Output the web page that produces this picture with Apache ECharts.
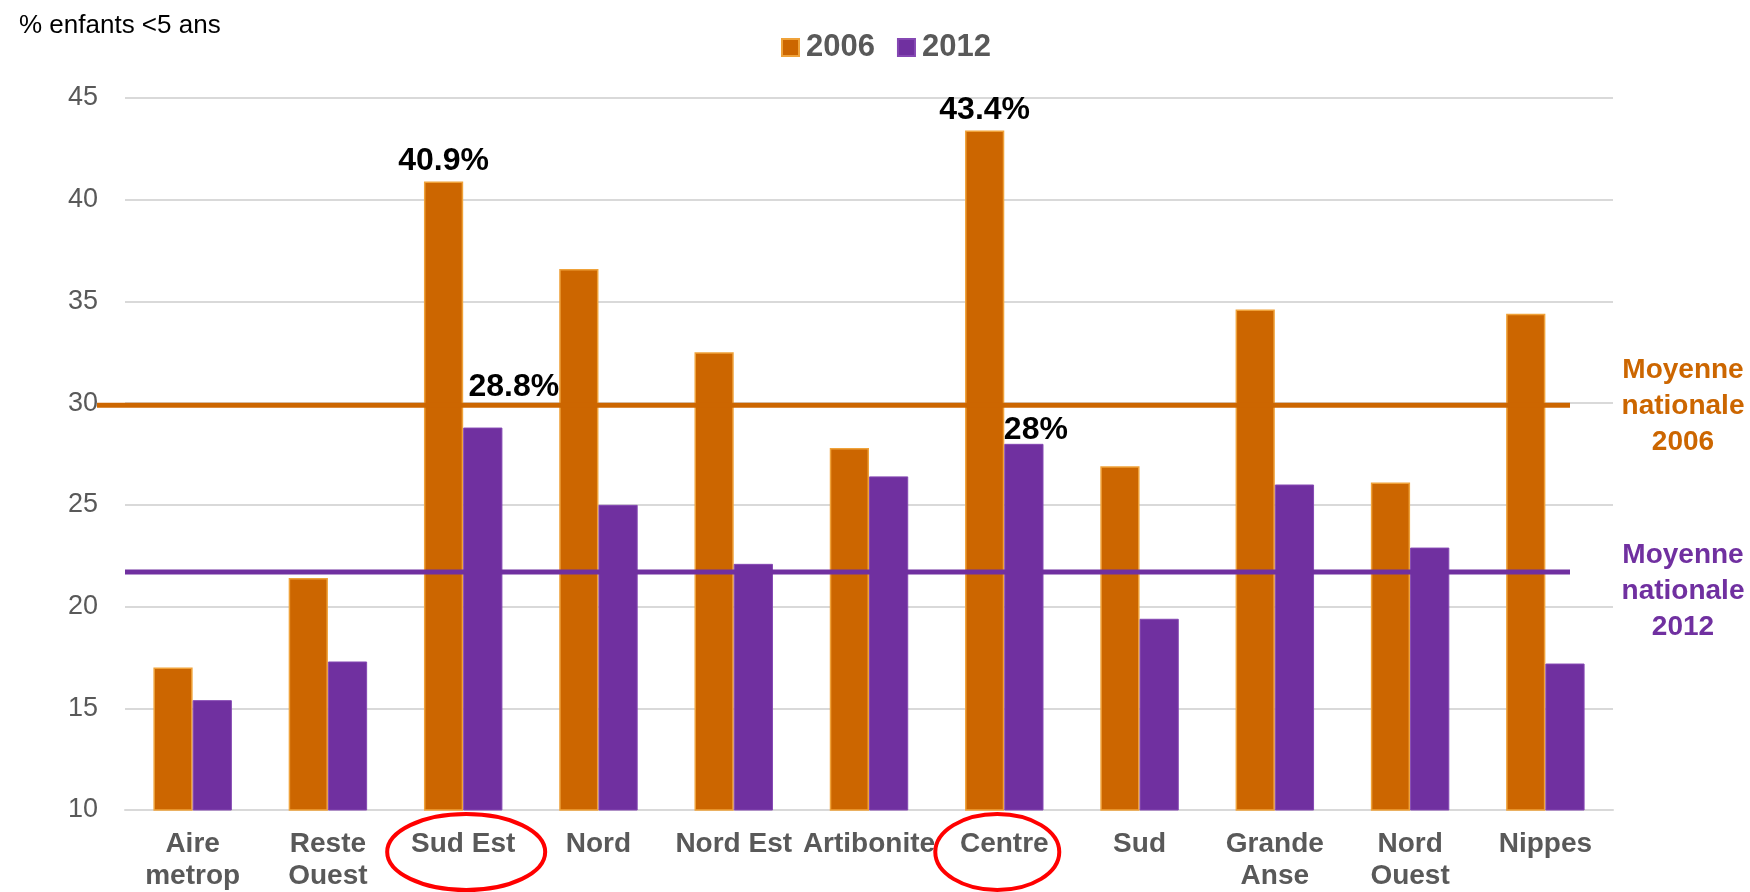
<!DOCTYPE html>
<html>
<head>
<meta charset="utf-8">
<script src="https://cdn.jsdelivr.net/npm/echarts@6/dist/echarts.min.js"></script>
<style>
  html, body { margin: 0; padding: 0; background: #ffffff; }
  #chart { width: 1750px; height: 892px; }
</style>
</head>
<body>
<div id="chart"></div>
<script>
// Département data: share of children under 5 (%)
const categories = ['Aire\nmetrop', 'Reste\nOuest', 'Sud Est', 'Nord', 'Nord Est', 'Artibonite', 'Centre', 'Sud', 'Grande\nAnse', 'Nord\nOuest', 'Nippes'];
const values2006 = [17.0, 21.4, 40.9, 36.6, 32.5, 27.8, 43.4, 26.9, 34.6, 26.1, 34.4];
const values2012 = [15.4, 17.3, 28.8, 25.0, 22.1, 26.4, 28.0, 19.4, 26.0, 22.9, 17.2];
const nationalAvg2006 = 29.9;
const nationalAvg2012 = 21.7;
const seriesNames = ['2006', '2012'];
const yMin = 10, yMax = 45, yInterval = 5;
const labelledCategories = ['Sud Est', 'Centre'];
const circledCategories = ['Sud Est', 'Centre'];

const ORANGE = '#CC6600';
const PURPLE = '#7030A0';
const GREY_TEXT = '#595959';
const GRID_LINE = '#D9D9D9';
const FONT = '"Liberation Sans", Arial, sans-serif';

// per-label nudges so value labels avoid neighbouring bars
const labelOffsets = {
  '2012|Sud Est': [31, -20],
  '2012|Centre': [12, 6]
};

function buildData(values, seriesName) {
  return values.map(function (v, i) {
    const cat = categories[i];
    if (labelledCategories.indexOf(cat) >= 0) {
      return {
        value: v,
        label: { show: true, offset: labelOffsets[seriesName + '|' + cat] || [0, 0] }
      };
    }
    return v;
  });
}

const valueLabel = {
  show: false,
  position: 'top',
  distance: 4,
  formatter: '{c}%',
  fontFamily: FONT,
  fontSize: 32,
  fontWeight: 'bold',
  color: '#000000'
};

const option = {
  animation: false,
  backgroundColor: '#ffffff',
  textStyle: { fontFamily: FONT },
  title: {
    text: '% enfants <5 ans',
    left: 14,
    top: 8,
    textStyle: { fontFamily: FONT, fontSize: 26, fontWeight: 'normal', color: '#000000' }
  },
  legend: {
    data: seriesNames,
    left: 776,
    top: 27,
    itemWidth: 17,
    itemHeight: 17,
    itemGap: 22,
    icon: 'rect',
    textStyle: { fontFamily: FONT, fontSize: 31, fontWeight: 'bold', color: GREY_TEXT, padding: [0, 0, 0, 2] }
  },
  grid: { left: 125, right: 137, top: 98, bottom: 78, containLabel: false },
  xAxis: {
    type: 'category',
    data: categories,
    axisTick: { show: false },
    axisLine: { lineStyle: { color: GRID_LINE, width: 2 } },
    axisLabel: {
      interval: 0,
      margin: 18,
      fontFamily: FONT,
      fontSize: 28,
      fontWeight: 'bold',
      lineHeight: 32,
      color: GREY_TEXT
    }
  },
  yAxis: {
    type: 'value',
    min: yMin,
    max: yMax,
    interval: yInterval,
    axisLine: { show: false },
    axisTick: { show: false },
    splitLine: { lineStyle: { color: GRID_LINE, width: 2 } },
    axisLabel: { fontFamily: FONT, fontSize: 27, color: GREY_TEXT, margin: 27 }
  },
  series: [
    {
      name: seriesNames[0],
      type: 'bar',
      data: buildData(values2006, seriesNames[0]),
      barGap: '0%',
      barCategoryGap: '42%',
      itemStyle: { color: ORANGE, borderColor: '#EFA23A', borderWidth: 1.5 },
      label: valueLabel
    },
    {
      name: seriesNames[1],
      type: 'bar',
      data: buildData(values2012, seriesNames[1]),
      barGap: '0%',
      barCategoryGap: '42%',
      itemStyle: { color: PURPLE, borderColor: '#8548B3', borderWidth: 1 },
      label: valueLabel
    }
  ]
};

const chart = echarts.init(document.getElementById('chart'), null, { renderer: 'canvas' });
chart.setOption(option);

// Overlays placed through the chart's own scales
function toPx(catIndex, value) {
  return chart.convertToPixel({ gridIndex: 0 }, [catIndex, value]);
}
const gridRect = chart.getModel().getComponent('grid', 0).coordinateSystem.getRect();
const gridLeft = gridRect.x;
const gridRight = gridRect.x + gridRect.width;
const axisY = toPx(0, yMin)[1];

const y2006 = toPx(0, nationalAvg2006)[1];
const y2012 = toPx(0, nationalAvg2012)[1];

const ellipseShapes = {
  'Sud Est': { rx: 79, dx: 3 },
  'Centre': { rx: 62, dx: -7 }
};

const sideLabelFont = 'bold 28px ' + FONT;

const graphics = [
  {
    type: 'line', z: 10,
    shape: { x1: gridLeft - 28, y1: y2006, x2: gridRight - 43, y2: y2006 },
    style: { stroke: ORANGE, lineWidth: 5 }
  },
  {
    type: 'line', z: 10,
    shape: { x1: gridLeft, y1: y2012, x2: gridRight - 43, y2: y2012 },
    style: { stroke: PURPLE, lineWidth: 5 }
  },
  {
    type: 'text', z: 10,
    x: 1683, y: y2006 + 1,
    style: {
      text: 'Moyenne\nnationale\n2006',
      fill: ORANGE,
      font: sideLabelFont,
      lineHeight: 36,
      textAlign: 'center',
      textVerticalAlign: 'middle'
    }
  },
  {
    type: 'text', z: 10,
    x: 1683, y: y2012 + 19,
    style: {
      text: 'Moyenne\nnationale\n2012',
      fill: PURPLE,
      font: sideLabelFont,
      lineHeight: 36,
      textAlign: 'center',
      textVerticalAlign: 'middle'
    }
  }
];

circledCategories.forEach(function (cat) {
  const idx = categories.indexOf(cat);
  const cx = toPx(idx, yMin)[0];
  const shape = ellipseShapes[cat];
  graphics.push({
    type: 'ellipse', z: 10,
    shape: { cx: cx + shape.dx, cy: axisY + 42, rx: shape.rx, ry: 38 },
    style: { fill: null, stroke: '#FF0000', lineWidth: 4 }
  });
});

chart.setOption({ graphic: graphics });
</script>
</body>
</html>
